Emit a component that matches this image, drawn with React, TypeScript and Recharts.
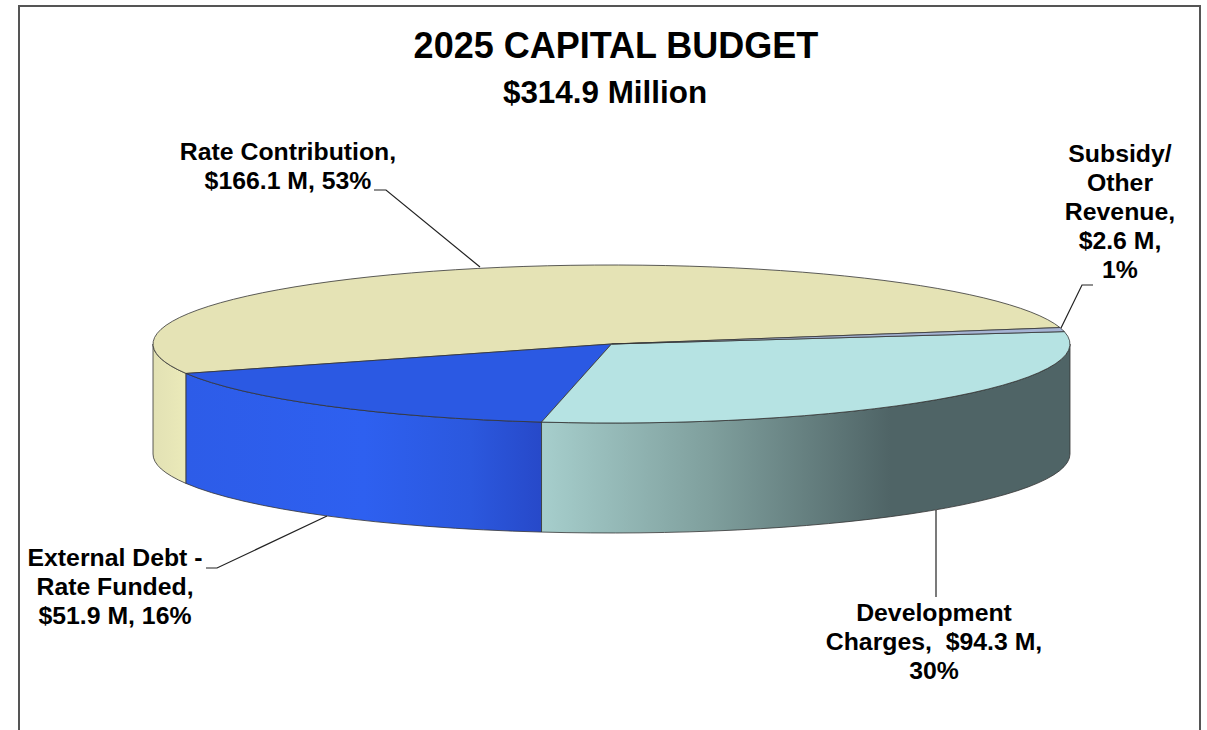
import React from 'react';
import { Pie, PieChart } from 'recharts';

const categories = ['Rate Contribution', 'External Debt - Rate Funded', 'Development Charges', 'Subsidy/Other Revenue'];
const values = [166.1, 51.9, 94.3, 2.6];
const labelLines = [
  ['Rate Contribution,', '$166.1 M, 53%'],
  ['External Debt -', 'Rate Funded,', '$51.9 M, 16%'],
  ['Development', 'Charges,  $94.3 M,', '30%'],
  ['Subsidy/', 'Other', 'Revenue,', '$2.6 M,', '1%'],
];

const topColors = ['#e5e3b5', '#2b59e3', '#b6e3e3', '#a6b4d4'];
const wallStops = [
  [[0, '#e2e1b4'], [1, '#ebeab9']],
  [[0, '#2d5ce8'], [0.5, '#2e60f0'], [0.8, '#2b58de'], [1, '#2749c9']],
  [[0, '#a6cecc'], [0.32, '#7f9f9d'], [0.66, '#4f6466'], [1, '#4f6466']],
  [[0, '#a6b4d4'], [1, '#a6b4d4']],
];

// where the labels sit and how their leader lines run
const labelPos = [
  { x: 288, y: 160, line: '374,190 386,190 480,267' },
  { x: 115, y: 566, line: '206,568 217,568 327,516' },
  { x: 934, y: 621, line: '936,510 936,597' },
  { x: 1120, y: 162, line: '1093,285 1082,285 1061,328' },
];

const data = categories.map((name, i) => ({ name, value: values[i], idx: i }));

const CX = 611.5;
const CY = 344;
const RX = 458.5;
const RY = 79;
const DEPTH = 110;

const pt = (deg: number, dy = 0) => {
  const a = (deg * Math.PI) / 180;
  return [CX + RX * Math.cos(a), CY - RY * Math.sin(a) + dy];
};

function Slab(props: any) {
  const { startAngle, endAngle, payload } = props;
  const idx = payload.idx;
  const [sx, sy] = pt(startAngle);
  const [ex, ey] = pt(endAngle);
  const large = endAngle - startAngle > 180 ? 1 : 0;
  const top = `M${CX},${CY} L${sx},${sy} A${RX},${RY} 0 ${large} 0 ${ex},${ey} Z`;

  const a0 = Math.max(startAngle, 180);
  const a1 = Math.min(endAngle, 360);
  const hasWall = a1 > a0;
  const gid = `wall-${idx}`;
  let wall = '';
  let x0 = 0;
  let x1 = 1;
  if (hasWall) {
    const [ax, ay] = pt(a0);
    const [bx, by] = pt(a1);
    x0 = ax;
    x1 = bx;
    wall = `M${ax},${ay} A${RX},${RY} 0 0 0 ${bx},${by} L${bx},${by + DEPTH} A${RX},${RY} 0 0 1 ${ax},${ay + DEPTH} Z`;
  }

  return (
    <g>
      {hasWall && (
        <>
          <defs>
            <linearGradient id={gid} gradientUnits="userSpaceOnUse" x1={x0} y1={0} x2={x1} y2={0}>
              {wallStops[idx].map(([o, c]) => (
                <stop key={String(o)} offset={o as number} stopColor={c as string} />
              ))}
            </linearGradient>
          </defs>
          <path d={wall} fill={`url(#${gid})`} stroke="#333" strokeWidth={0.8} />
        </>
      )}
      <path d={top} fill={topColors[idx]} stroke="#333" strokeWidth={0.8} />
    </g>
  );
}

function SliceLabel(props: any) {
  const i = props.index;
  const pos = labelPos[i];
  return (
    <g>
      <polyline points={pos.line} fill="none" stroke="#222" strokeWidth={1.2} />
      <text
        textAnchor="middle"
        fontFamily="Liberation Sans"
        fontWeight="bold"
        fontSize={24.8}
        fill="#000"
        style={{ whiteSpace: 'pre' }}
      >
        {labelLines[i].map((t, n) => (
          <tspan key={n} x={pos.x} y={pos.y + n * 29}>
            {t}
          </tspan>
        ))}
      </text>
    </g>
  );
}

export default function App() {
  return (
    <div style={{ position: 'absolute', left: 0, top: 0, width: 1207, height: 730, overflow: 'hidden', background: '#fff' }}>
      <div
        style={{
          position: 'absolute',
          left: 18,
          top: 5,
          width: 1183,
          height: 760,
          border: '2px solid #555',
          boxSizing: 'border-box',
        }}
      />
      <div style={{ position: 'absolute', left: 0, top: 0 }}>
        <PieChart width={1207} height={730} margin={{ top: 0, right: 0, bottom: 0, left: 0 }}>
          <text x={616} y={58} textAnchor="middle" fontFamily="Liberation Sans" fontWeight="bold" fontSize={36} fill="#000">
            2025 CAPITAL BUDGET
          </text>
          <text x={605} y={103} textAnchor="middle" fontFamily="Liberation Sans" fontWeight="bold" fontSize={31.4} fill="#000">
            $314.9 Million
          </text>
          <Pie
            data={data}
            dataKey="value"
            nameKey="name"
            cx={CX}
            cy={CY}
            outerRadius={RX}
            startAngle={12}
            endAngle={372}
            paddingAngle={0}
            shape={Slab}
            label={SliceLabel}
            labelLine={false}
            isAnimationActive={false}
          />
        </PieChart>
      </div>
    </div>
  );
}
